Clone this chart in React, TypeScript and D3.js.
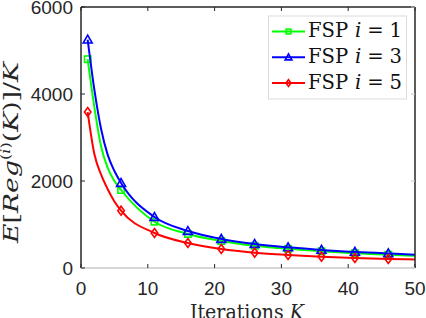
import React from "react";
import * as d3 from "d3";

const iterations = [1, 2, 3, 4, 5, 6, 11, 16, 21, 26, 31, 36, 41, 46, 50];
const markerIterations = [1, 6, 11, 16, 21, 26, 31, 36, 41, 46];
const fspI1 = [4800, 3700, 2800, 2300, 2000, 1793, 1064, 782, 620, 510, 440, 385, 340, 305, 280];
const fspI3 = [5250, 4100, 3200, 2600, 2230, 1954, 1172, 850, 667, 552, 475, 415, 370, 335, 305];
const fspI5 = [3586, 2620, 2150, 1810, 1530, 1317, 805, 575, 437, 352, 299, 260, 230, 207, 195];
const xTicks = [0, 10, 20, 30, 40, 50];
const yTicks = [0, 2000, 4000, 6000];
const seriesNames = ["1", "3", "5"];

const W = 426, H = 318;
const L = 81, R = 415, T = 7, B = 268;

const tickFont = "Arial, Liberation Sans, Helvetica, sans-serif";
const serif = "DejaVu Serif";

export default function App() {
  const x = d3.scaleLinear().domain([0, 50]).range([L, R]);
  const y = d3.scaleLinear().domain([0, 6000]).range([B, T]);
  const line = d3
    .line<[number, number]>()
    .x((d) => x(d[0]))
    .y((d) => y(d[1]))
    .curve(d3.curveMonotoneX);

  const series = [
    { vals: fspI1, color: "#00ff00", marker: "square", name: seriesNames[0] },
    { vals: fspI3, color: "#0000ff", marker: "triangle", name: seriesNames[1] },
    { vals: fspI5, color: "#ff0000", marker: "diamond", name: seriesNames[2] },
  ];

  const drawMarker = (type: string, cx: number, cy: number, color: string, key: string, s = 1) => {
    if (type === "square") {
      const h = 3.2 * s;
      return <rect key={key} x={cx - h} y={cy - h} width={2 * h} height={2 * h} fill="none" stroke={color} strokeWidth={1.6} />;
    }
    if (type === "triangle") {
      const h = 4.5 * s;
      const p = `${cx},${cy - h} ${cx - h},${cy + h * 0.75} ${cx + h},${cy + h * 0.75}`;
      return <polygon key={key} points={p} fill="none" stroke={color} strokeWidth={1.6} />;
    }
    const h = 4.5 * s;
    const w = 3.3 * s;
    const p = `${cx},${cy - h} ${cx + w},${cy} ${cx},${cy + h} ${cx - w},${cy}`;
    return <polygon key={key} points={p} fill="none" stroke={color} strokeWidth={1.6} />;
  };

  return (
    <svg width={W} height={H} style={{ position: "absolute", left: 0, top: 0, background: "#fff" }}>
      <rect x={0} y={0} width={W} height={H} fill="#fff" />
      {series.map((s, si) => {
        const pts: [number, number][] = iterations.map((k, i) => [k, s.vals[i]]);
        return (
          <g key={si}>
            <path d={line(pts) || ""} fill="none" stroke={s.color} strokeWidth={2} />
            {markerIterations.map((k) => {
              const i = iterations.indexOf(k);
              return drawMarker(s.marker, x(k), y(s.vals[i]), s.color, `m${si}-${k}`);
            })}
          </g>
        );
      })}
      <line x1={L} y1={T} x2={R} y2={T} stroke="#262626" strokeWidth={1.5} />
      <line x1={R} y1={T} x2={R} y2={B} stroke="#262626" strokeWidth={1.5} />
      <line x1={L} y1={T} x2={L} y2={B} stroke="#262626" strokeWidth={1.5} />
      <line x1={L} y1={B} x2={R} y2={B} stroke="#d8d8d8" strokeWidth={2} />
      {xTicks.map((t) => (
        <g key={`xt${t}`}>
          <line x1={x(t)} y1={B} x2={x(t)} y2={B - 4} stroke="#262626" strokeWidth={1} />
          <line x1={x(t)} y1={T} x2={x(t)} y2={T + 4} stroke="#262626" strokeWidth={1} />
          <text x={x(t)} y={295} textAnchor="middle" fontFamily={tickFont} fontSize={19} fill="#262626">
            {t}
          </text>
        </g>
      ))}
      {yTicks.map((t) => (
        <g key={`yt${t}`}>
          <line x1={L} y1={y(t)} x2={L + 4} y2={y(t)} stroke="#262626" strokeWidth={1} />
          <line x1={R} y1={y(t)} x2={R - 4} y2={y(t)} stroke="#c8c8c8" strokeWidth={1} />
          <text x={73} y={y(t) + 6.8} textAnchor="end" fontFamily={tickFont} fontSize={19} fill="#262626">
            {t}
          </text>
        </g>
      ))}
      <text
        x={190}
        y={319}
        textLength={114}
        lengthAdjust="spacingAndGlyphs"
        fontFamily={serif}
        fontSize={21}
        fill="#262626"
      >
        Iterations <tspan fontStyle="italic">K</tspan>
      </text>
      <text
        transform={`translate(17.5, 243) rotate(-90)`}
        x={0}
        y={0}
        textLength={181}
        lengthAdjust="spacingAndGlyphs"
        fontFamily={serif}
        fontSize={20}
        fontStyle="italic"
        fill="#262626"
      >
        E<tspan fontStyle="normal">[</tspan>Reg
        <tspan dy={-8} fontSize={12} fontStyle="normal">(</tspan>
        <tspan fontSize={12}>i</tspan>
        <tspan fontSize={12} fontStyle="normal">)</tspan>
        <tspan dy={8} fontStyle="normal">(</tspan>K
        <tspan fontStyle="normal">)]/</tspan>K
      </text>
      <rect x={268.5} y={16} width={138} height={83} fill="#fff" stroke="#dcdcdc" strokeWidth={1} />
      {series.map((s, si) => {
        const ly = 31.5 + si * 25.8;
        return (
          <g key={`lg${si}`}>
            <line x1={272} y1={ly} x2={305} y2={ly} stroke={s.color} strokeWidth={2} />
            {drawMarker(s.marker, 288.5, ly, s.color, `lm${si}`, 0.75)}
            <text
              x={308}
              y={ly + 5.5}
              textLength={94}
              lengthAdjust="spacingAndGlyphs"
              fontFamily={serif}
              fontSize={20}
              fill="#111"
            >
              FSP
              <tspan dx={7} fontStyle="italic">i</tspan>
              <tspan dx={6}>=</tspan>
              <tspan dx={6}>{s.name}</tspan>
            </text>
          </g>
        );
      })}
    </svg>
  );
}
